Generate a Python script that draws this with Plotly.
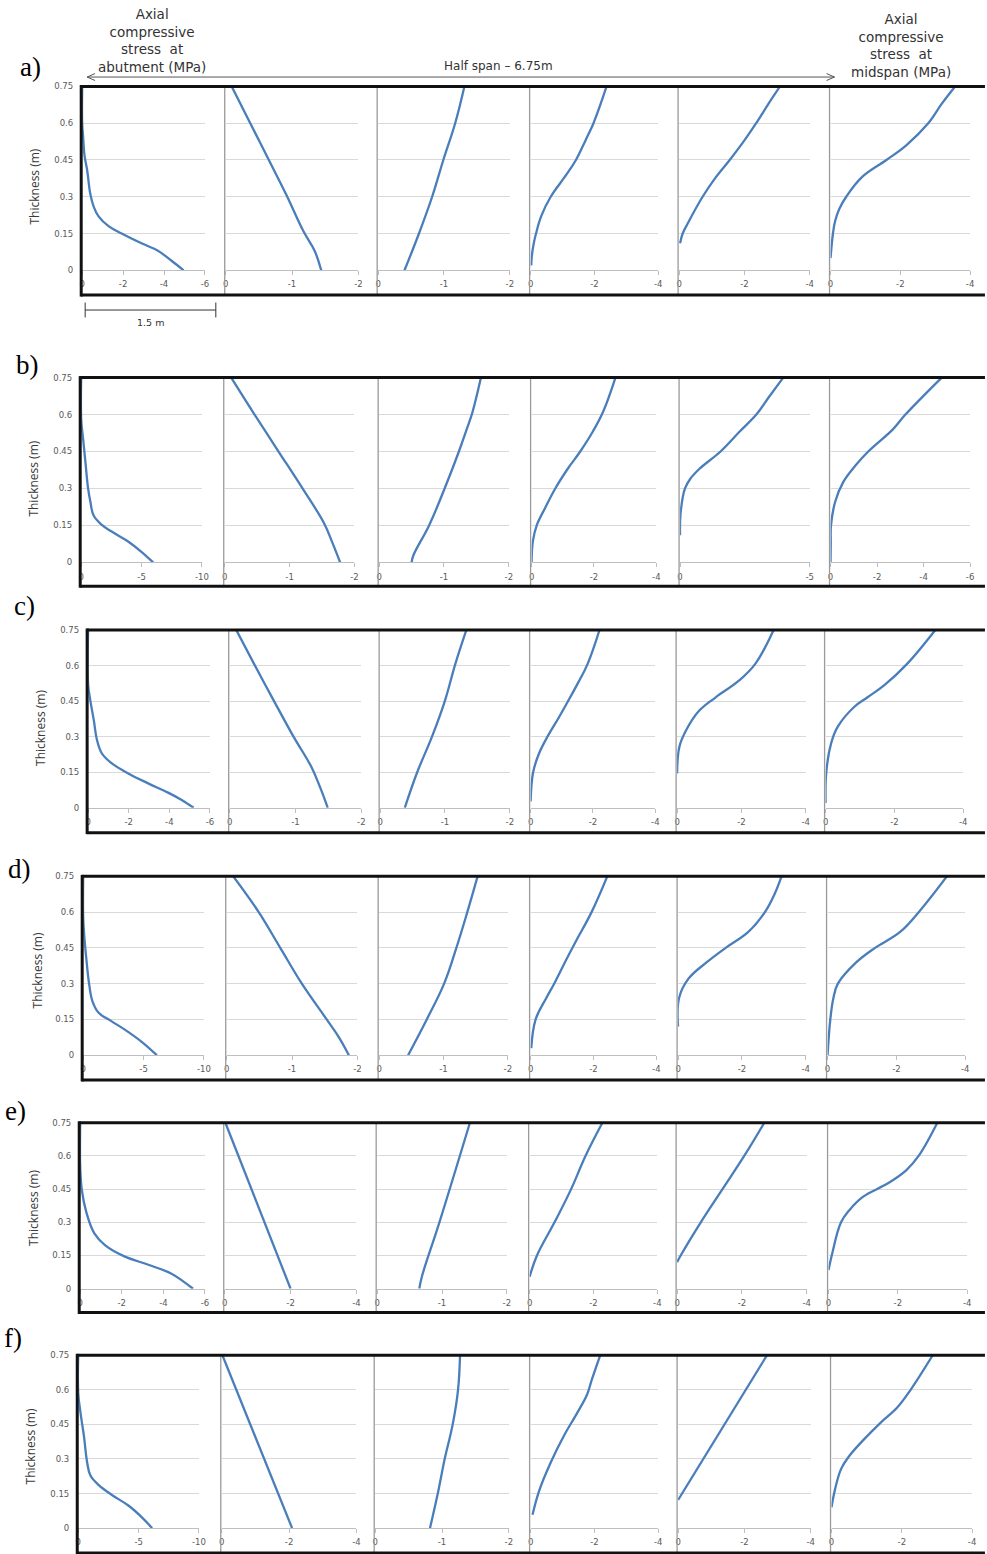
import plotly.graph_objects as go

W, H = 987, 1554

# ---------------- data (stress in MPa vs thickness in m) ----------------
ROWS = ["a", "b", "c", "d", "e", "f"]

a1_thick = [0, 0.04, 0.08, 0.11, 0.15, 0.18, 0.22, 0.26, 0.31, 0.41, 0.47, 0.54, 0.6, 0.75]
a1_stress = [-4.96, -4.35, -3.7, -2.9, -1.93, -1.29, -0.8, -0.56, -0.4, -0.24, -0.11, -0.05, 0, 0]
a2_thick = [0, 0.08, 0.16, 0.31, 0.45, 0.6, 0.75]
a2_stress = [-1.44, -1.34, -1.17, -0.91, -0.65, -0.37, -0.09]
a3_thick = [0, 0.15, 0.3, 0.45, 0.6, 0.75]
a3_stress = [-0.4, -0.62, -0.82, -0.99, -1.17, -1.31]
a4_thick = [0.02, 0.06, 0.11, 0.15, 0.22, 0.3, 0.39, 0.45, 0.53, 0.6, 0.75]
a4_stress = [-0.02, -0.04, -0.1, -0.17, -0.33, -0.63, -1.12, -1.42, -1.72, -1.97, -2.38]
a5_thick = [0.11, 0.15, 0.19, 0.3, 0.375, 0.45, 0.53, 0.6, 0.68, 0.75]
a5_stress = [-0.03, -0.11, -0.26, -0.72, -1.1, -1.55, -2.0, -2.36, -2.74, -3.09]
a6_thick = [0.05, 0.15, 0.2, 0.25, 0.3, 0.38, 0.45, 0.51, 0.6, 0.68, 0.75]
a6_stress = [0, -0.07, -0.13, -0.25, -0.45, -0.9, -1.6, -2.17, -2.8, -3.19, -3.57]

b1_thick = [0, 0.044, 0.085, 0.125, 0.152, 0.19, 0.246, 0.3, 0.407, 0.5, 0.58, 0.75]
b1_stress = [-5.96, -4.96, -3.88, -2.52, -1.71, -1.03, -0.76, -0.57, -0.35, -0.16, 0, 0]
b2_thick = [0, 0.08, 0.16, 0.3, 0.45, 0.6, 0.75]
b2_stress = [-1.78, -1.66, -1.53, -1.2, -0.83, -0.46, -0.1]
b3_thick = [0, 0.03, 0.15, 0.3, 0.45, 0.54, 0.61, 0.75]
b3_stress = [-0.5, -0.53, -0.77, -1.01, -1.23, -1.35, -1.44, -1.57]
b4_thick = [0, 0.085, 0.152, 0.22, 0.3, 0.38, 0.45, 0.53, 0.61, 0.75]
b4_stress = [0, -0.04, -0.17, -0.43, -0.76, -1.16, -1.56, -1.96, -2.29, -2.69]
b5_thick = [0.11, 0.2, 0.3, 0.34, 0.38, 0.45, 0.53, 0.6, 0.67, 0.75]
b5_stress = [0, -0.02, -0.19, -0.4, -0.75, -1.56, -2.29, -2.94, -3.42, -3.98]
b6_thick = [0, 0.08, 0.15, 0.246, 0.327, 0.394, 0.45, 0.54, 0.6, 0.75]
b6_stress = [0, -0.01, -0.02, -0.2, -0.55, -1.08, -1.62, -2.68, -3.22, -4.78]

c1_thick = [0, 0.034, 0.064, 0.103, 0.145, 0.187, 0.229, 0.285, 0.369, 0.452, 0.52, 0.75]
c1_stress = [-5.2, -4.59, -3.94, -2.96, -1.98, -1.17, -0.68, -0.44, -0.28, -0.11, 0, 0]
c2_thick = [0, 0.089, 0.173, 0.3, 0.452, 0.607, 0.75]
c2_stress = [-1.49, -1.37, -1.24, -0.97, -0.67, -0.37, -0.1]
c3_thick = [0, 0.149, 0.3, 0.452, 0.607, 0.75]
c3_stress = [-0.38, -0.57, -0.8, -1.0, -1.16, -1.33]
c4_thick = [0.027, 0.149, 0.229, 0.3, 0.382, 0.452, 0.529, 0.607, 0.75]
c4_stress = [0, -0.08, -0.27, -0.54, -0.91, -1.21, -1.53, -1.83, -2.21]
c5_thick = [0.145, 0.257, 0.327, 0.41, 0.466, 0.536, 0.607, 0.75]
c5_stress = [0, -0.07, -0.28, -0.69, -1.2, -1.92, -2.43, -3.0]
c6_thick = [0.02, 0.149, 0.271, 0.341, 0.425, 0.466, 0.516, 0.607, 0.75]
c6_stress = [0, -0.02, -0.16, -0.35, -0.83, -1.22, -1.7, -2.37, -3.19]

d1_thick = [0, 0.053, 0.101, 0.143, 0.178, 0.226, 0.296, 0.41, 0.5, 0.58, 0.75]
d1_stress = [-6.1, -4.92, -3.63, -2.33, -1.28, -0.77, -0.5, -0.25, -0.09, 0, 0]
d2_thick = [0, 0.074, 0.15, 0.3, 0.45, 0.6, 0.75]
d2_stress = [-1.87, -1.72, -1.53, -1.15, -0.82, -0.49, -0.1]
d3_thick = [0, 0.15, 0.3, 0.45, 0.6, 0.75]
d3_stress = [-0.45, -0.74, -1.01, -1.2, -1.37, -1.53]
d4_thick = [0.03, 0.15, 0.24, 0.3, 0.41, 0.48, 0.6, 0.75]
d4_stress = [-0.02, -0.16, -0.5, -0.75, -1.17, -1.45, -1.94, -2.44]
d5_thick = [0.12, 0.24, 0.32, 0.39, 0.45, 0.517, 0.6, 0.675, 0.75]
d5_stress = [0, -0.03, -0.32, -0.9, -1.49, -2.2, -2.72, -3.02, -3.24]
d6_thick = [0, 0.15, 0.24, 0.3, 0.39, 0.45, 0.517, 0.6, 0.75]
d6_stress = [0, -0.08, -0.17, -0.3, -0.84, -1.38, -2.11, -2.65, -3.47]

e1_thick = [0, 0.032, 0.069, 0.107, 0.147, 0.197, 0.25, 0.347, 0.445, 0.55, 0.75]
e1_stress = [-5.43, -4.97, -4.37, -3.31, -2.1, -1.19, -0.68, -0.29, -0.08, 0, 0]
e2_thick = [0, 0.75]
e2_stress = [-2.0, -0.02]
e3_thick = [0, 0.055, 0.3, 0.75]
e3_stress = [-0.65, -0.69, -0.96, -1.43]
e4_thick = [0.054, 0.15, 0.3, 0.45, 0.6, 0.75]
e4_stress = [0, -0.23, -0.78, -1.3, -1.75, -2.28]
e5_thick = [0.12, 0.15, 0.3, 0.45, 0.6, 0.75]
e5_stress = [0, -0.11, -0.73, -1.4, -2.07, -2.69]
e6_thick = [0.084, 0.149, 0.3, 0.355, 0.415, 0.475, 0.535, 0.6, 0.75]
e6_stress = [0, -0.09, -0.36, -0.6, -0.99, -1.7, -2.24, -2.6, -3.14]

f1_thick = [0, 0.048, 0.098, 0.144, 0.187, 0.228, 0.285, 0.4, 0.5, 0.587, 0.75]
f1_stress = [-6.12, -5.25, -4.15, -2.79, -1.7, -1.01, -0.74, -0.47, -0.19, 0, 0]
f2_thick = [0, 0.75]
f2_stress = [-2.09, -0.02]
f3_thick = [0, 0.155, 0.3, 0.45, 0.6, 0.75]
f3_stress = [-0.82, -0.94, -1.04, -1.16, -1.24, -1.27]
f4_thick = [0.058, 0.163, 0.285, 0.4, 0.5, 0.58, 0.645, 0.75]
f4_stress = [-0.06, -0.27, -0.63, -1.04, -1.46, -1.77, -1.92, -2.18]
f5_thick = [0.122, 0.75]
f5_stress = [0, -2.68]
f6_thick = [0.09, 0.155, 0.256, 0.314, 0.386, 0.458, 0.523, 0.6, 0.75]
f6_stress = [0, -0.08, -0.27, -0.51, -0.93, -1.4, -1.87, -2.25, -2.88]

# axis end value (left end is 0) of each panel
a_xend = [-6, -2, -2, -4, -4, -4]
b_xend = [-10, -2, -2, -4, -5, -6]
c_xend = [-6, -2, -2, -4, -4, -4]
d_xend = [-10, -2, -2, -4, -4, -4]
e_xend = [-6, -4, -2, -4, -4, -4]
f_xend = [-10, -4, -2, -4, -4, -4]
XSTEP = {-2: 1, -4: 2, -5: 5, -6: 2, -10: 5}

thick_ticks = [0, 0.15, 0.3, 0.45, 0.6, 0.75]
thick_labels = ["0", "0.15", "0.3", "0.45", "0.6", "0.75"]
row_labels = ["a)", "b)", "c)", "d)", "e)", "f)"]

g = globals()
THICK = {r: [g[f"{r}{i}_thick"] for i in range(1, 7)] for r in ROWS}
STRESS = {r: [g[f"{r}{i}_stress"] for i in range(1, 7)] for r in ROWS}
XEND = {r: g[f"{r}_xend"] for r in ROWS}

# ---------------- layout geometry (pixels) ----------------
GEOM = {
    "a": dict(top=82, zero=267, bottom=292, left=79, lab=(28, 62), tc=(32, 183)),
    "b": dict(top=375, zero=561, bottom=585, left=78, lab=(25, 362), tc=(31, 477)),
    "c": dict(top=629, zero=808, bottom=833, left=85, lab=(22, 605), tc=(38, 728)),
    "d": dict(top=877, zero=1057, bottom=1082, left=80, lab=(17, 870), tc=(35, 972)),
    "e": dict(top=1125, zero=1292, bottom=1316, left=77, lab=(13, 1113), tc=(31, 1211)),
    "f": dict(top=1359, zero=1533, bottom=1558, left=75, lab=(10, 1342), tc=(28, 1451)),
}
PANEL_X = {
    "a": [(80, 204), (225, 359), (379, 512), (533, 662), (683, 815), (836, 977)],
    "b": [(79, 201), (224, 355), (380, 511), (534, 660), (684, 815), (836, 977)],
    "c": [(86, 209), (229, 362), (381, 512), (533, 659), (681, 811), (831, 970)],
    "d": [(81, 203), (226, 358), (380, 510), (533, 660), (682, 811), (833, 972)],
    "e": [(78, 204), (224, 357), (378, 509), (532, 661), (681, 812), (834, 974)],
    "f": [(76, 198), (221, 357), (376, 511), (533, 662), (682, 816), (837, 979)],
}

BLUE = "#4a7ebb"
TICK_FONT = dict(family="DejaVu Sans", size=8.5, color="#595959")


def px(x):
    return x / W


def py(y):
    return 1 - y / H


fig = go.Figure()
layout = {}
shapes = []
annotations = []

k = 0
for ri, r in enumerate(ROWS):
    G = GEOM[r]
    for i in range(6):
        k += 1
        xa = "x" if k == 1 else f"x{k}"
        ya = "y" if k == 1 else f"y{k}"
        xn = "xaxis" if k == 1 else f"xaxis{k}"
        yn = "yaxis" if k == 1 else f"yaxis{k}"
        x0, x1 = PANEL_X[r][i]
        end = XEND[r][i]
        step = XSTEP[end]
        tv = []
        v = 0
        while v >= end - 1e-9:
            tv.append(v)
            v -= step
        fig.add_trace(go.Scatter(
            x=STRESS[r][i], y=THICK[r][i], mode="lines",
            line=dict(color=BLUE, width=2.3, shape="spline", smoothing=1.1),
            xaxis=xa, yaxis=ya, showlegend=False, hoverinfo="skip"))
        layout[xn] = dict(
            domain=[px(x0), px(x1)], range=[0, end], anchor=ya,
            showgrid=False, zeroline=False, showline=True, linecolor="#bfbfbf",
            linewidth=1, ticks="outside", ticklen=4, tickcolor="#bfbfbf",
            tickvals=tv, ticktext=[str(t) for t in tv], tickfont=TICK_FONT,
            ticklabelstandoff=2, fixedrange=True)
        layout[yn] = dict(
            domain=[py(G["zero"]), py(G["top"])], range=[0, 0.75], anchor=xa,
            showgrid=True, gridcolor="#d9d9d9", gridwidth=1, zeroline=False,
            showline=False, tickvals=thick_ticks, ticktext=thick_labels,
            showticklabels=(i == 0), tickfont=TICK_FONT, ticks="",
            ticklabelstandoff=8, fixedrange=True)
        if i > 0:
            shapes.append(dict(type="line", xref="paper", yref="paper",
                               x0=px(x0 - 1), x1=px(x0 - 1),
                               y0=py(G["top"]), y1=py(G["bottom"]),
                               line=dict(color="#9a9a9a", width=1.3)))
    # thick black frame
    for (xa0, ya0, xa1, ya1) in [
        (G["left"], G["top"], W + 5, G["top"]),
        (G["left"], G["bottom"], W + 5, G["bottom"]),
        (G["left"], G["top"] - 1.5, G["left"], G["bottom"] + 1.5),
    ]:
        shapes.append(dict(type="line", xref="paper", yref="paper",
                           x0=px(xa0), y0=py(ya0), x1=px(xa1), y1=py(ya1),
                           line=dict(color="#111111", width=3)))
    # row label
    annotations.append(dict(text=row_labels[ri], xref="paper", yref="paper",
                            x=px(G["lab"][0]), y=py(G["lab"][1]), showarrow=False,
                            xanchor="center", yanchor="middle",
                            font=dict(family="Liberation Serif", size=27, color="#000")))
    annotations.append(dict(text="Thickness (m)", xref="paper", yref="paper",
                            x=px(G["tc"][0]), y=py(G["tc"][1]), showarrow=False,
                            textangle=-90, xanchor="center", yanchor="middle",
                            font=dict(family="Open Sans", size=12, color="#3a3a3a")))

# header: arrow with half span
HDR = "#333333"
ay = 72.5
shapes.append(dict(type="line", xref="paper", yref="paper", x0=px(85), x1=px(840),
                   y0=py(ay), y1=py(ay), line=dict(color="#555", width=1)))
for (tip, back) in [(85, 93), (840, 832)]:
    shapes.append(dict(type="path", xref="paper", yref="paper",
                       path=f"M {px(back)} {py(ay - 3.5)} L {px(tip)} {py(ay)} L {px(back)} {py(ay + 3.5)}",
                       line=dict(color="#555", width=1)))
annotations.append(dict(text="Half span \u2013 6.75m", xref="paper", yref="paper",
                        x=px(501), y=py(61), showarrow=False, xanchor="center", yanchor="middle",
                        font=dict(family="DejaVu Sans", size=12, color=HDR)))
annotations.append(dict(text="Axial<br>compressive<br>stress\u00a0 at<br>abutment (MPa)",
                        xref="paper", yref="paper", x=px(151), y=py(36), showarrow=False,
                        xanchor="center", yanchor="middle", align="center",
                        font=dict(family="DejaVu Sans", size=13.5, color=HDR)))
annotations.append(dict(text="Axial<br>compressive<br>stress\u00a0 at<br>midspan (MPa)",
                        xref="paper", yref="paper", x=px(907), y=py(41), showarrow=False,
                        xanchor="center", yanchor="middle", align="center",
                        font=dict(family="DejaVu Sans", size=13.5, color=HDR)))

# scale bar under row a
sb_y = 307
shapes.append(dict(type="line", xref="paper", yref="paper", x0=px(83), x1=px(215),
                   y0=py(sb_y), y1=py(sb_y), line=dict(color="#333", width=1)))
for xx in (83, 215):
    shapes.append(dict(type="line", xref="paper", yref="paper", x0=px(xx), x1=px(xx),
                       y0=py(sb_y - 7.5), y1=py(sb_y + 7.5), line=dict(color="#333", width=1)))
annotations.append(dict(text="1.5 m", xref="paper", yref="paper", x=px(149), y=py(320),
                        showarrow=False, xanchor="center", yanchor="middle",
                        font=dict(family="DejaVu Sans", size=9.5, color=HDR)))

fig.update_layout(
    width=W, height=H, margin=dict(l=0, r=0, t=0, b=0, pad=0),
    paper_bgcolor="white", plot_bgcolor="rgba(0,0,0,0)",
    shapes=shapes, annotations=annotations, showlegend=False,
    **layout)

fig.write_html("out.html", config={"displayModeBar": False})
